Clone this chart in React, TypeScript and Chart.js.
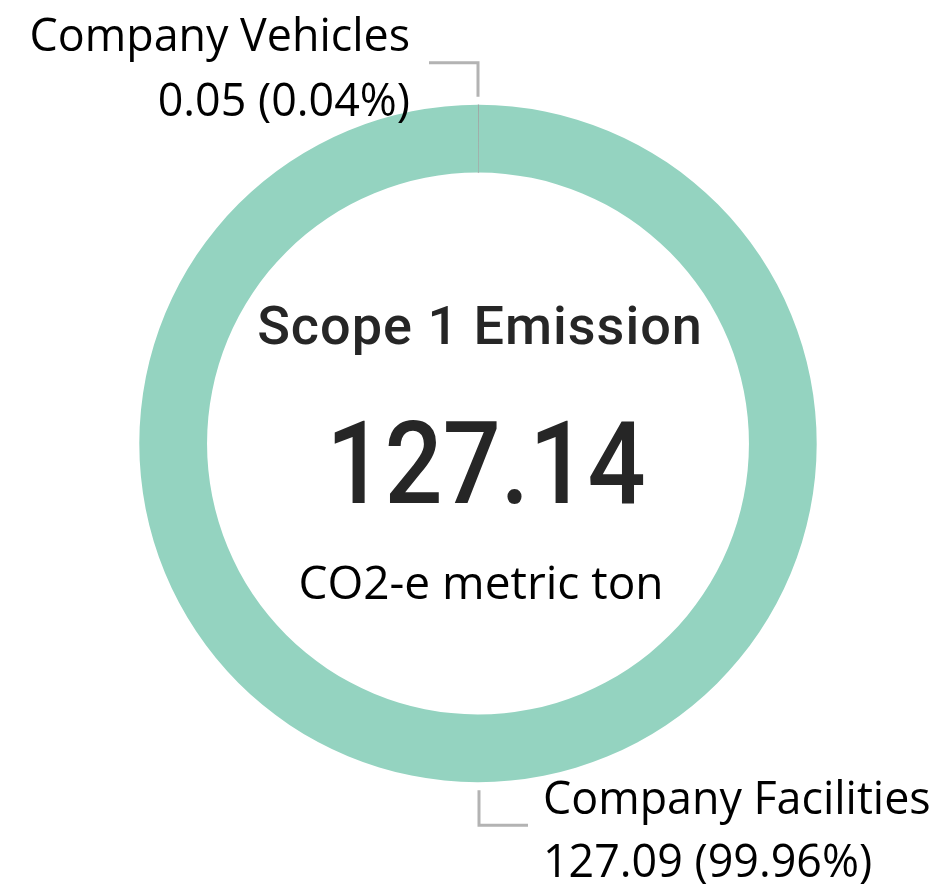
import React, { useEffect, useRef } from "react";
import { Chart, registerables } from "chart.js";

Chart.register(...registerables);

const categories = ["Company Vehicles", "Company Facilities"];
const values = [0.05, 127.09];
const percents = ["0.04%", "99.96%"];
const totalLabel = "127.14";
const titleText = "Scope 1 Emission";
const unitText = "CO2-e metric ton";
const colors = ["#9a9a9a", "#94d3c0"];

const LABEL_FONT = '"Open Sans", "Noto Sans", sans-serif';
const TITLE_FONT = 'Roboto, "Noto Sans", sans-serif';

const overlayPlugin = {
  id: "overlay",
  afterDatasetsDraw(chart: any) {
    const arc: any = chart.getDatasetMeta(0).data[0];
    if (!arc) return;
    const { x: cx, y: cy, outerRadius: r } = arc.getProps(["x", "y", "outerRadius"], true);
    const ctx = chart.ctx;
    ctx.save();

    // callout lines
    ctx.strokeStyle = "#b3b3b3";
    ctx.lineWidth = 3;
    ctx.lineCap = "butt";
    const topY = cy - r - 8;
    ctx.beginPath();
    ctx.moveTo(cx - 49, topY - 34);
    ctx.lineTo(cx, topY - 34);
    ctx.lineTo(cx, topY);
    ctx.stroke();
    const botY = cy + r + 8;
    ctx.beginPath();
    ctx.moveTo(cx + 1, botY);
    ctx.lineTo(cx + 1, botY + 35);
    ctx.lineTo(cx + 50, botY + 35);
    ctx.stroke();

    // labels
    ctx.fillStyle = "#000000";
    ctx.textBaseline = "alphabetic";
    ctx.font = `44.8px ${LABEL_FONT}`;
    ctx.textAlign = "right";
    ctx.fillText(categories[0], cx - 68, cy - r - 54);
    ctx.fillText(`${values[0].toFixed(2)} (${percents[0]})`, cx - 68, cy - r + 11);
    ctx.textAlign = "left";
    ctx.fillText(categories[1], cx + 65, cy + r + 32);
    ctx.fillText(`${values[1].toFixed(2)} (${percents[1]})`, cx + 65, cy + r + 95);

    // center text
    ctx.textAlign = "center";
    ctx.fillStyle = "#262626";
    ctx.font = `500 54px ${TITLE_FONT}`;
    (ctx as any).letterSpacing = "1px";
    ctx.fillText(titleText, cx + 2, cy - 100);
    (ctx as any).letterSpacing = "0px";
    ctx.save();
    ctx.translate(cx + 8, cy + 59);
    ctx.scale(0.89, 1);
    ctx.font = `500 115px ${TITLE_FONT}`;
    ctx.fillText(totalLabel, 0, 0);
    ctx.restore();
    ctx.fillStyle = "#000000";
    ctx.font = `46px ${LABEL_FONT}`;
    ctx.fillText(unitText, cx + 3, cy + 155);
    ctx.restore();
  },
};

export default function App() {
  const canvasRef = useRef<HTMLCanvasElement>(null);
  useEffect(() => {
    if (!canvasRef.current) return;
    const chart = new Chart(canvasRef.current, {
      type: "doughnut",
      data: {
        labels: categories,
        datasets: [
          {
            data: values,
            backgroundColor: colors,
            borderColor: colors,
            borderWidth: [0.6, 0],
          },
        ],
      },
      options: {
        animation: false,
        responsive: false,
        maintainAspectRatio: false,
        cutout: "80%",
        layout: { padding: { left: 139, right: 127, top: 104.5, bottom: 113.5 } },
        plugins: {
          legend: { display: false },
          tooltip: { enabled: false },
        },
      },
      plugins: [overlayPlugin],
    });
    return () => chart.destroy();
  }, []);
  return (
    <div style={{ position: "absolute", left: 0, top: 0, width: 944, height: 896, background: "#fff" }}>
      <canvas ref={canvasRef} width={944} height={896} style={{ width: 944, height: 896 }} />
    </div>
  );
}
